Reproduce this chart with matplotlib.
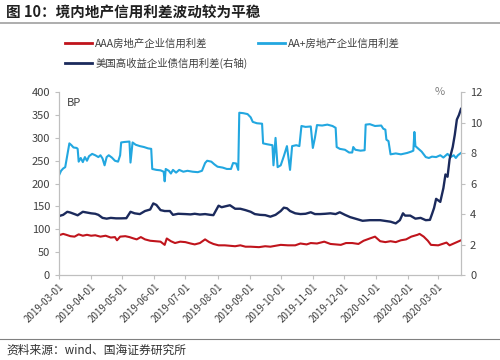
import matplotlib
matplotlib.use("Agg")
import matplotlib.pyplot as plt
import matplotlib.dates as mdates
import pandas as pd
from matplotlib.lines import Line2D

plt.rcParams['font.family'] = ['Noto Sans CJK SC', 'DejaVu Sans']

# AA+ 房地产企业信用利差 (BP)
aa_dates = ["2019-03-01", "2019-03-03", "2019-03-05", "2019-03-07", "2019-03-09", "2019-03-11",
            "2019-03-13", "2019-03-15", "2019-03-18", "2019-03-19", "2019-03-20", "2019-03-22",
            "2019-03-24", "2019-03-26", "2019-03-28", "2019-03-30", "2019-04-02", "2019-04-05",
            "2019-04-08", "2019-04-10", "2019-04-12", "2019-04-14", "2019-04-16", "2019-04-18",
            "2019-04-21", "2019-04-24", "2019-04-27", "2019-04-29", "2019-04-30", "2019-05-03",
            "2019-05-08", "2019-05-09", "2019-05-11", "2019-05-14", "2019-05-18", "2019-05-22",
            "2019-05-26", "2019-05-29", "2019-05-30", "2019-06-03", "2019-06-07", "2019-06-10",
            "2019-06-11", "2019-06-12", "2019-06-15", "2019-06-17", "2019-06-19", "2019-06-22",
            "2019-06-25", "2019-06-29", "2019-07-03", "2019-07-08", "2019-07-13", "2019-07-17",
            "2019-07-20", "2019-07-22", "2019-07-26", "2019-07-29", "2019-08-01", "2019-08-06",
            "2019-08-10", "2019-08-14", "2019-08-16", "2019-08-19", "2019-08-21", "2019-08-22",
            "2019-08-26", "2019-08-30", "2019-09-02", "2019-09-04", "2019-09-08", "2019-09-13",
            "2019-09-14", "2019-09-18", "2019-09-23", "2019-09-24", "2019-09-26", "2019-09-28",
            "2019-10-01", "2019-10-04", "2019-10-07", "2019-10-10", "2019-10-12", "2019-10-16",
            "2019-10-19", "2019-10-21", "2019-10-25", "2019-10-30", "2019-11-01", "2019-11-03",
            "2019-11-05", "2019-11-10", "2019-11-15", "2019-11-20", "2019-11-23", "2019-11-24",
            "2019-11-27", "2019-12-02", "2019-12-06", "2019-12-09", "2019-12-10", "2019-12-12",
            "2019-12-17", "2019-12-21", "2019-12-22", "2019-12-26", "2019-12-31", "2020-01-06",
            "2020-01-08", "2020-01-10", "2020-01-11", "2020-01-13", "2020-01-15", "2020-01-20",
            "2020-01-25", "2020-01-31", "2020-02-04", "2020-02-06", "2020-02-07", "2020-02-08",
            "2020-02-11", "2020-02-14", "2020-02-18", "2020-02-21", "2020-02-24", "2020-02-28",
            "2020-03-03", "2020-03-06", "2020-03-10", "2020-03-13", "2020-03-16", "2020-03-18",
            "2020-03-20", "2020-03-23"]
aa_vals = [218, 228, 233, 236, 262, 288,
           284, 279, 278, 276, 248, 256,
           247, 258, 250, 260, 265, 262,
           258, 262, 255, 240, 258, 262,
           257, 250, 248, 262, 290, 291,
           292, 246, 290, 285, 282, 280,
           277, 276, 232, 230, 229, 226,
           205, 232, 228, 222, 230, 224,
           230, 226, 228, 226, 225, 228,
           245, 250, 248, 242, 237, 235,
           232, 232, 245, 244, 230, 355,
           354, 352, 345, 335, 332, 331,
           288, 286, 284, 240, 300, 236,
           240, 260, 282, 230, 282, 284,
           282, 326, 324, 325, 278, 300,
           328, 327, 329, 326, 322, 280,
           276, 274, 268, 268, 280, 274,
           272, 273, 329, 330, 326, 327,
           320, 318, 296, 293, 264, 266,
           264, 267, 270, 272, 313, 282,
           276, 270, 258, 256, 259, 258,
           262, 257, 265, 258, 262, 256,
           262, 267]

# AAA 房地产企业信用利差 (BP)
aaa_dates = ["2019-03-01", "2019-03-05", "2019-03-08", "2019-03-12", "2019-03-16", "2019-03-20",
             "2019-03-24", "2019-03-28", "2019-04-01", "2019-04-05", "2019-04-10", "2019-04-15",
             "2019-04-20", "2019-04-24", "2019-04-26", "2019-04-29", "2019-05-04", "2019-05-08",
             "2019-05-12", "2019-05-15", "2019-05-19", "2019-05-23", "2019-05-28", "2019-06-02",
             "2019-06-07", "2019-06-11", "2019-06-13", "2019-06-17", "2019-06-21", "2019-06-26",
             "2019-07-01", "2019-07-06", "2019-07-10", "2019-07-15", "2019-07-20", "2019-07-24",
             "2019-07-28", "2019-08-02", "2019-08-08", "2019-08-13", "2019-08-18", "2019-08-23",
             "2019-08-28", "2019-09-02", "2019-09-10", "2019-09-16", "2019-09-21", "2019-09-26",
             "2019-10-01", "2019-10-08", "2019-10-15", "2019-10-20", "2019-10-26", "2019-10-30",
             "2019-11-05", "2019-11-12", "2019-11-18", "2019-11-23", "2019-11-28", "2019-12-03",
             "2019-12-09", "2019-12-15", "2019-12-20", "2019-12-26", "2019-12-31", "2020-01-05",
             "2020-01-10", "2020-01-15", "2020-01-20", "2020-01-25", "2020-01-30", "2020-02-04",
             "2020-02-10", "2020-02-12", "2020-02-16", "2020-02-20", "2020-02-23", "2020-03-01",
             "2020-03-05", "2020-03-09", "2020-03-12", "2020-03-15", "2020-03-19", "2020-03-23"]
aaa_vals = [87, 90, 88, 85, 84, 89,
            86, 88, 86, 87, 84, 86,
            82, 83, 76, 84, 85, 83,
            80, 78, 83, 78, 75, 74,
            73, 66, 80, 74, 70, 73,
            72, 69, 67, 70, 78, 72,
            68, 65, 65, 64, 63, 65,
            62, 62, 61, 63, 62, 64,
            66, 65, 65, 69, 67, 70,
            69, 73, 68, 67, 66, 70,
            70, 68, 75, 80, 84, 74,
            72, 74, 72, 76, 78, 84,
            88, 90, 84, 75, 66, 65,
            68, 71, 65, 68, 72, 76]

# 美国高收益企业债信用利差 (%, 右轴)
us_dates = ["2019-03-01", "2019-03-05", "2019-03-09", "2019-03-12", "2019-03-16", "2019-03-19",
            "2019-03-24", "2019-03-28", "2019-04-01", "2019-04-05", "2019-04-08", "2019-04-12",
            "2019-04-16", "2019-04-20", "2019-04-25", "2019-04-30", "2019-05-05", "2019-05-09",
            "2019-05-13", "2019-05-18", "2019-05-23", "2019-05-28", "2019-05-31", "2019-06-03",
            "2019-06-07", "2019-06-11", "2019-06-16", "2019-06-19", "2019-06-24", "2019-07-01",
            "2019-07-06", "2019-07-10", "2019-07-15", "2019-07-20", "2019-07-25", "2019-07-28",
            "2019-08-02", "2019-08-05", "2019-08-08", "2019-08-13", "2019-08-18", "2019-08-23",
            "2019-08-28", "2019-09-02", "2019-09-06", "2019-09-11", "2019-09-16", "2019-09-21",
            "2019-09-26", "2019-10-01", "2019-10-04", "2019-10-07", "2019-10-10", "2019-10-15",
            "2019-10-20", "2019-10-25", "2019-10-30", "2019-11-03", "2019-11-08", "2019-11-13",
            "2019-11-18", "2019-11-23", "2019-11-27", "2019-12-02", "2019-12-07", "2019-12-12",
            "2019-12-19", "2019-12-26", "2020-01-05", "2020-01-10", "2020-01-15", "2020-01-20",
            "2020-01-24", "2020-01-27", "2020-01-29", "2020-02-03", "2020-02-08", "2020-02-13",
            "2020-02-18", "2020-02-22", "2020-02-24", "2020-02-26", "2020-02-28", "2020-03-03",
            "2020-03-06", "2020-03-08", "2020-03-10", "2020-03-12", "2020-03-15", "2020-03-17",
            "2020-03-19", "2020-03-21", "2020-03-23"]
us_vals = [3.87, 3.95, 4.15, 4.10, 4.00, 3.92,
           4.15, 4.10, 4.05, 4.02, 3.95, 3.75,
           3.70, 3.75, 3.72, 3.72, 3.73, 4.15,
           4.05, 4.00, 4.20, 4.30, 4.70, 4.60,
           4.26, 4.20, 4.20, 3.95, 4.02, 4.00,
           3.98, 4.02, 3.97, 4.00, 3.95, 3.93,
           4.55, 4.45, 4.50, 4.58, 4.35, 4.35,
           4.26, 4.15, 4.00, 3.95, 3.93, 3.83,
           3.95, 4.20, 4.42, 4.38, 4.20, 4.05,
           4.00, 4.02, 4.12, 4.00, 4.00, 4.02,
           4.05, 4.00, 4.12, 3.95, 3.80, 3.70,
           3.56, 3.60, 3.60, 3.55, 3.50, 3.39,
           3.60, 4.05, 3.90, 3.90, 3.70, 3.75,
           3.60, 3.62, 4.00, 4.40, 5.00, 4.80,
           5.70, 6.60, 6.45, 7.60, 8.40, 9.20,
           10.20, 10.50, 10.90]

month_ticks = pd.date_range("2019-03-01", "2020-03-01", freq="MS")

c_aaa = "#C0141C"
c_aa = "#22A7E0"
c_us = "#1B2A5C"
grey = "#BFBFBF"
txt = "#404040"

fig = plt.figure(figsize=(5, 3.6), dpi=100)
ax = fig.add_axes([0.118, 0.236, 0.804, 0.508])
ax2 = ax.twinx()

ax.plot(pd.to_datetime(aaa_dates), aaa_vals, color=c_aaa, lw=1.5)
ax.plot(pd.to_datetime(aa_dates), aa_vals, color=c_aa, lw=1.5)
ax2.plot(pd.to_datetime(us_dates), us_vals, color=c_us, lw=1.7)

ax.set_xlim(pd.Timestamp("2019-03-01"), pd.Timestamp("2020-03-23"))
ax.set_ylim(0, 400)
ax.set_yticks(range(0, 401, 50))
ax2.set_ylim(0, 12)
ax2.set_yticks(range(0, 13, 2))
ax.set_xticks(month_ticks)
ax.xaxis.set_major_formatter(mdates.DateFormatter("%Y-%m-%d"))
for lab in ax.get_xticklabels():
    lab.set_rotation(45)
    lab.set_ha("right")
    lab.set_rotation_mode("anchor")

for a in (ax, ax2):
    a.spines["top"].set_visible(False)
    for s in ("left", "right", "bottom"):
        a.spines[s].set_color(grey)
        a.spines[s].set_linewidth(0.8)
    a.tick_params(colors=grey, labelcolor=txt, labelsize=8, length=3, width=0.8)
ax.tick_params(axis="x", labelsize=7, pad=2)

ax.text(0.02, 0.97, "BP", transform=ax.transAxes, fontsize=8, color=txt, va="top", ha="left")
ax2.text(0.96, 1.0, "%", transform=ax2.transAxes, fontsize=8, color="#808080", va="center", ha="right")

# legend (column-filled, so order gives AAA / AA+ on row one)
handles = [Line2D([], [], color=c_aaa, lw=2), Line2D([], [], color=c_us, lw=2),
           Line2D([], [], color=c_aa, lw=2)]
labels = ["AAA房地产企业信用利差", "美国高收益企业债信用利差(右轴)", "AA+房地产企业信用利差"]
fig.legend(handles, labels, ncol=2, loc="upper left", bbox_to_anchor=(0.122, 0.905),
           borderaxespad=0, frameon=False, fontsize=7.5, handlelength=2.6,
           handletextpad=0.3, columnspacing=1.0, labelspacing=0.9, labelcolor=txt)

# title, rules and source
fig.text(0.012, 0.965, "图 10：境内地产信用利差波动较为平稳", fontsize=10.5, fontweight="bold",
         color="#202020", va="center", ha="left")
fig.add_artist(Line2D([0.0, 1.0], [0.937, 0.937], color="#A0A0A0", lw=1.2))
fig.add_artist(Line2D([0.0, 1.0], [0.057, 0.057], color="#808080", lw=0.8))
fig.text(0.012, 0.027, "资料来源：wind、国海证券研究所", fontsize=8.5, color="#303030",
         va="center", ha="left")

fig.savefig("out.png", dpi=100)
